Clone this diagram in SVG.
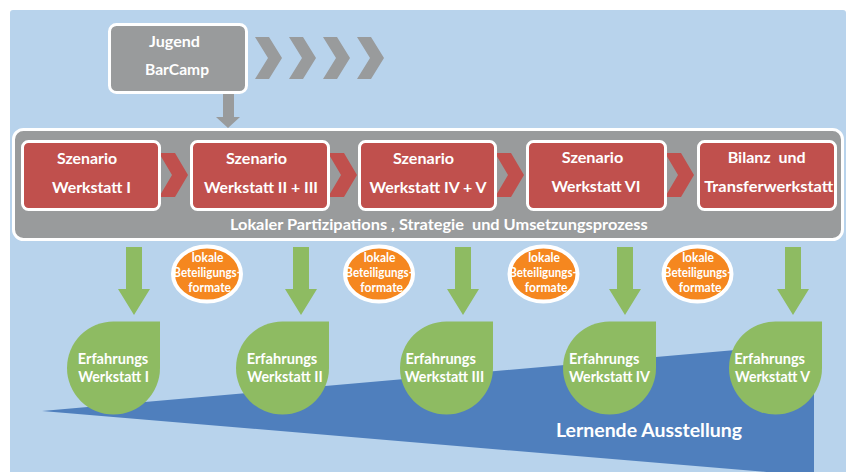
<svg xmlns="http://www.w3.org/2000/svg" width="849" height="472" viewBox="0 0 849 472">
<defs>
<style>
.t{font-family:Lato,"Open Sans","Liberation Sans",sans-serif;font-weight:700;fill:#ffffff;text-anchor:middle}
.bx{fill:#C0504D;stroke:#ffffff;stroke-width:3}
.gr{fill:#999B9C}
.chev{fill:#C0504D}
.grn{fill:#8EBB62}
.blob{fill:#F5871F;stroke:#ffffff;stroke-width:4}
.s155{font-size:15.5px}
.s145{font-size:14.5px}
.s125{font-size:12.5px}
</style>
</defs>
<rect x="10" y="10" width="836" height="470" rx="3" fill="#B8D3EC"/>
<polygon points="42,411 814,343 814,476" fill="#4F7FBD"/>
<rect x="13.5" y="129.5" width="829" height="110" rx="10" fill="#999B9C" stroke="#ffffff" stroke-width="3"/>

<g id="connectors">
  <g class="gr">
    <polygon points="255,37 269,37 282,58 269,79 255,79 268,58"/>
    <polygon points="289,37 303,37 316,58 303,79 289,79 302,58"/>
    <polygon points="323,37 337,37 350,58 337,79 323,79 336,58"/>
    <polygon points="357,37 371,37 384,58 371,79 357,79 370,58"/>
    <polygon points="223,93 234,93 234,117 240,117 228,128 216,117 223,117"/>
  </g>
  <g class="chev">
    <polygon points="159,153 175,153 188,175 175,197 159,197 172,175"/>
    <polygon points="328,153 344,153 357,175 344,197 328,197 341,175"/>
    <polygon points="495,153 511,153 524,175 511,197 495,197 508,175"/>
    <polygon points="665,153 681,153 694,175 681,197 665,197 678,175"/>
  </g>
  <g class="grn">
    <polygon points="126,247 142,247 142,289 150,289 134,315 118,289 126,289"/>
    <polygon points="293,247 309,247 309,289 317,289 301,315 285,289 293,289"/>
    <polygon points="455,247 471,247 471,289 479,289 463,315 447,289 455,289"/>
    <polygon points="617,247 633,247 633,289 641,289 625,315 609,289 617,289"/>
    <polygon points="785,247 801,247 801,289 809,289 793,315 777,289 785,289"/>
  </g>
</g>

<g id="jugend">
  <rect x="109.5" y="24.5" width="137" height="68" rx="7" fill="#999B9C" stroke="#ffffff" stroke-width="3"/>
  <text class="t s155" x="174.5" y="47" textLength="51" lengthAdjust="spacingAndGlyphs">Jugend</text>
  <text class="t s155" x="177" y="75" textLength="64" lengthAdjust="spacingAndGlyphs">BarCamp</text>
</g>

<g id="sw1">
  <rect class="bx" x="22.5" y="141.5" width="137" height="68" rx="6"/>
  <text class="t s155" x="87" y="163.5" textLength="60" lengthAdjust="spacingAndGlyphs">Szenario</text>
  <text class="t s155" x="91.5" y="192.5" textLength="79" lengthAdjust="spacingAndGlyphs">Werkstatt I</text>
</g>
<g id="sw2">
  <rect class="bx" x="191.5" y="141.5" width="137" height="68" rx="6"/>
  <text class="t s155" x="256.5" y="163.5" textLength="61" lengthAdjust="spacingAndGlyphs">Szenario</text>
  <text class="t s155" x="261" y="192.5" textLength="114" lengthAdjust="spacingAndGlyphs">Werkstatt II + III</text>
</g>
<g id="sw3">
  <rect class="bx" x="359.5" y="141.5" width="136" height="68" rx="6"/>
  <text class="t s155" x="423.5" y="163.5" textLength="61" lengthAdjust="spacingAndGlyphs">Szenario</text>
  <text class="t s155" x="428" y="192.5" textLength="117" lengthAdjust="spacingAndGlyphs">Werkstatt IV + V</text>
</g>
<g id="sw4">
  <rect class="bx" x="527.5" y="141.5" width="138" height="68" rx="6"/>
  <text class="t s155" x="592.5" y="163" textLength="61.5" lengthAdjust="spacingAndGlyphs">Szenario</text>
  <text class="t s155" x="596" y="191.5" textLength="89" lengthAdjust="spacingAndGlyphs">Werkstatt VI</text>
</g>
<g id="sw5">
  <rect class="bx" x="698.5" y="141.5" width="137" height="68" rx="6"/>
  <text class="t s155" x="766.7" y="163" textLength="78" lengthAdjust="spacingAndGlyphs" xml:space="preserve">Bilanz  und</text>
  <text class="t s155" x="768.7" y="191.5" textLength="129" lengthAdjust="spacingAndGlyphs">Transferwerkstatt</text>
</g>
<g id="prozess">
  <text class="t s155" x="438.8" y="230" textLength="417.7" lengthAdjust="spacingAndGlyphs" xml:space="preserve">Lokaler Partizipations , Strategie  und Umsetzungsprozess</text>
</g>

<g id="blob1">
  <ellipse class="blob" cx="207" cy="274" rx="34" ry="27.5"/>
  <text class="t s125" x="207.5" y="262" textLength="31.7" lengthAdjust="spacingAndGlyphs">lokale</text>
  <text class="t s125" x="207.2" y="277" textLength="67.7" lengthAdjust="spacingAndGlyphs">Beteiligungs-</text>
  <text class="t s125" x="209.7" y="292" textLength="42.7" lengthAdjust="spacingAndGlyphs">formate</text>
</g>
<g id="blob2">
  <ellipse class="blob" cx="379" cy="274" rx="34" ry="27.5"/>
  <text class="t s125" x="379.5" y="262" textLength="31.7" lengthAdjust="spacingAndGlyphs">lokale</text>
  <text class="t s125" x="379.2" y="277" textLength="67.7" lengthAdjust="spacingAndGlyphs">Beteiligungs-</text>
  <text class="t s125" x="381.7" y="292" textLength="42.7" lengthAdjust="spacingAndGlyphs">formate</text>
</g>
<g id="blob3">
  <ellipse class="blob" cx="543.5" cy="274" rx="34" ry="27.5"/>
  <text class="t s125" x="544" y="262" textLength="31.7" lengthAdjust="spacingAndGlyphs">lokale</text>
  <text class="t s125" x="543" y="277" textLength="67.7" lengthAdjust="spacingAndGlyphs">Beteiligungs-</text>
  <text class="t s125" x="546.2" y="292" textLength="42.7" lengthAdjust="spacingAndGlyphs">formate</text>
</g>
<g id="blob4">
  <ellipse class="blob" cx="697.5" cy="274" rx="34" ry="27.5"/>
  <text class="t s125" x="698" y="262" textLength="31.7" lengthAdjust="spacingAndGlyphs">lokale</text>
  <text class="t s125" x="697.7" y="277" textLength="67.7" lengthAdjust="spacingAndGlyphs">Beteiligungs-</text>
  <text class="t s125" x="700.2" y="292" textLength="42.7" lengthAdjust="spacingAndGlyphs">formate</text>
</g>

<g id="ew1">
  <path class="grn" d="M113.5,321.5 H160 V368 A46.5,46.5 0 1 1 113.5,321.5 Z"/>
  <text class="t s145" x="113" y="364" textLength="70.5" lengthAdjust="spacingAndGlyphs">Erfahrungs</text>
  <text class="t s145" x="113.6" y="381.7" textLength="70.7" lengthAdjust="spacingAndGlyphs">Werkstatt I</text>
</g>
<g id="ew2">
  <path class="grn" d="M282.5,321.5 H329 V368 A46.5,46.5 0 1 1 282.5,321.5 Z"/>
  <text class="t s145" x="282" y="364" textLength="70.6" lengthAdjust="spacingAndGlyphs">Erfahrungs</text>
  <text class="t s145" x="285" y="381.7" textLength="75.3" lengthAdjust="spacingAndGlyphs">Werkstatt II</text>
</g>
<g id="ew3">
  <path class="grn" d="M446.5,321.5 H493 V368 A46.5,46.5 0 1 1 446.5,321.5 Z"/>
  <text class="t s145" x="440.7" y="364" textLength="70.6" lengthAdjust="spacingAndGlyphs">Erfahrungs</text>
  <text class="t s145" x="444.5" y="381.7" textLength="79.5" lengthAdjust="spacingAndGlyphs">Werkstatt III</text>
</g>
<g id="ew4">
  <path class="grn" d="M609.5,321.5 H656 V368 A46.5,46.5 0 1 1 609.5,321.5 Z"/>
  <text class="t s145" x="604.2" y="364" textLength="70.3" lengthAdjust="spacingAndGlyphs">Erfahrungs</text>
  <text class="t s145" x="609.5" y="381.7" textLength="81" lengthAdjust="spacingAndGlyphs">Werkstatt IV</text>
</g>
<g id="ew5">
  <path class="grn" d="M775.5,321.5 H822 V368 A46.5,46.5 0 1 1 775.5,321.5 Z"/>
  <text class="t s145" x="769.7" y="363.5" textLength="70.7" lengthAdjust="spacingAndGlyphs">Erfahrungs</text>
  <text class="t s145" x="772.5" y="381.7" textLength="75" lengthAdjust="spacingAndGlyphs">Werkstatt V</text>
</g>

<g id="ausstellung">
  <text class="t" style="font-size:19px" x="649" y="437" textLength="186" lengthAdjust="spacingAndGlyphs">Lernende Ausstellung</text>
</g>
</svg>
